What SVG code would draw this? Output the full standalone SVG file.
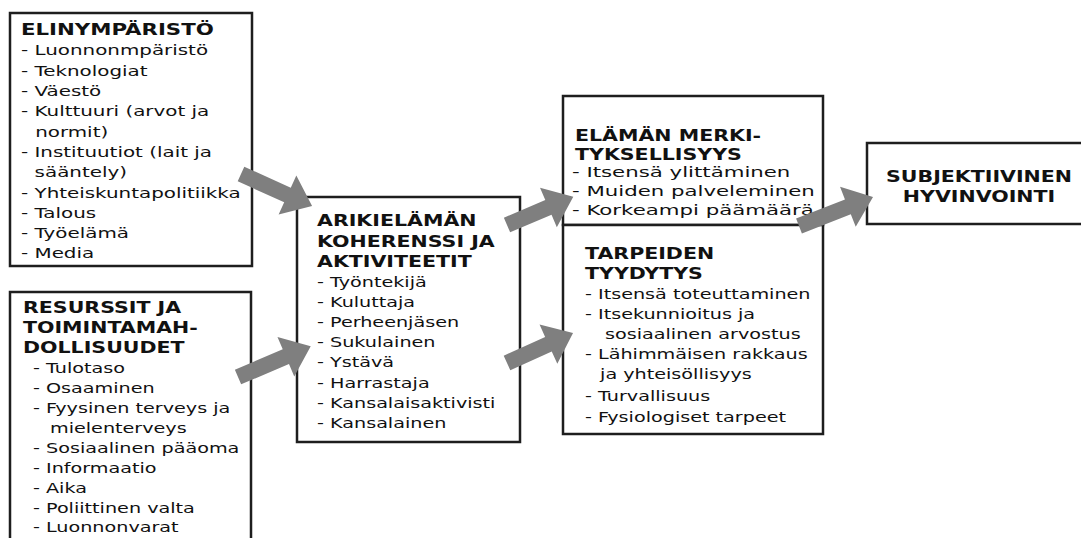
<svg xmlns="http://www.w3.org/2000/svg" width="1081" height="538" viewBox="0 0 1081 538">
<style>
.box{fill:#fff;stroke:#1e1e1e;stroke-width:2.5}
.t{font-family:"DejaVu Sans","Liberation Sans",sans-serif;font-size:14px;fill:#111}
.b{font-family:"DejaVu Sans","Liberation Sans",sans-serif;font-size:15px;font-weight:bold;fill:#111}
.arrow{fill:#7f7f7f;stroke:none}
</style>
<rect width="1081" height="538" fill="#fff"/>
<g id="elinymparisto">
<rect class="box" x="10" y="13" width="242" height="253"/>
<g transform="translate(21,0) scale(1.42,1)">
<text class="b" x="0" y="35">ELINYMPÄRISTÖ</text>
<text class="t" x="0" y="55.5">- Luonnonmpäristö</text>
<text class="t" x="0" y="75.8">- Teknologiat</text>
<text class="t" x="0" y="96.1">- Väestö</text>
<text class="t" x="0" y="116.4">- Kulttuuri (arvot ja</text>
<text class="t" x="10" y="136.7">normit)</text>
<text class="t" x="0" y="157">- Instituutiot (lait ja</text>
<text class="t" x="9.6" y="177.3">sääntely)</text>
<text class="t" x="0" y="197.8">- Yhteiskuntapolitiikka</text>
<text class="t" x="0" y="218">- Talous</text>
<text class="t" x="0" y="238.4">- Työelämä</text>
<text class="t" x="0" y="258.5">- Media</text>
</g>
</g>
<g id="resurssit">
<rect class="box" x="10" y="292" width="241" height="260"/>
<g transform="translate(23,0) scale(1.37,1)">
<text class="b" x="0" y="313">RESURSSIT JA</text>
<text class="b" x="0" y="333">TOIMINTAMAH-</text>
<text class="b" x="0" y="353">DOLLISUUDET</text>
<text class="t" x="7.3" y="373">- Tulotaso</text>
<text class="t" x="7.3" y="393">- Osaaminen</text>
<text class="t" x="7.3" y="413">- Fyysinen terveys ja</text>
<text class="t" x="19.7" y="433">mielenterveys</text>
<text class="t" x="7.3" y="453">- Sosiaalinen pääoma</text>
<text class="t" x="7.3" y="473">- Informaatio</text>
<text class="t" x="7.3" y="493">- Aika</text>
<text class="t" x="7.3" y="513">- Poliittinen valta</text>
<text class="t" x="7.3" y="532.5">- Luonnonvarat</text>
</g>
</g>
<g id="arkielama">
<rect class="box" x="297" y="197" width="223" height="245"/>
<g transform="translate(317,0) scale(1.37,1)">
<text class="b" x="0" y="226">ARIKIELÄMÄN</text>
<text class="b" x="0" y="247">KOHERENSSI JA</text>
<text class="b" x="0" y="267">AKTIVITEETIT</text>
<text class="t" x="0" y="287">- Työntekijä</text>
<text class="t" x="0" y="307">- Kuluttaja</text>
<text class="t" x="0" y="327">- Perheenjäsen</text>
<text class="t" x="0" y="347">- Sukulainen</text>
<text class="t" x="0" y="367.5">- Ystävä</text>
<text class="t" x="0" y="388">- Harrastaja</text>
<text class="t" x="0" y="408">- Kansalaisaktivisti</text>
<text class="t" x="0" y="428">- Kansalainen</text>
</g>
</g>
<g id="merkityksellisyys">
<rect class="box" x="563" y="96" width="260" height="129"/>
<g transform="translate(575,0) scale(1.37,1)">
<text class="b" x="0" y="141">ELÄMÄN MERKI-</text>
<text class="b" x="0" y="160">TYKSELLISYYS</text>
</g>
<g transform="translate(572,0) scale(1.52,1)">
<text class="t" x="0" y="177.5">- Itsensä ylittäminen</text>
<text class="t" x="0" y="196.5">- Muiden palveleminen</text>
<text class="t" x="0" y="215.5">- Korkeampi päämäärä</text>
</g>
</g>
<g id="tarpeet">
<rect class="box" x="563" y="225" width="260" height="209"/>
<g transform="translate(585,0) scale(1.37,1)">
<text class="b" x="0" y="259">TARPEIDEN</text>
<text class="b" x="0" y="279">TYYDYTYS</text>
<text class="t" x="0" y="299">- Itsensä toteuttaminen</text>
<text class="t" x="0" y="319">- Itsekunnioitus ja</text>
<text class="t" x="14.6" y="339">sosiaalinen arvostus</text>
<text class="t" x="0" y="359">- Lähimmäisen rakkaus</text>
<text class="t" x="11" y="379">ja yhteisöllisyys</text>
<text class="t" x="0" y="401">- Turvallisuus</text>
<text class="t" x="0" y="422">- Fysiologiset tarpeet</text>
</g>
</g>
<g id="hyvinvointi">
<rect class="box" x="867" y="143" width="225" height="81"/>
<g transform="translate(979,0) scale(1.37,1)">
<text class="b" x="0" y="182" text-anchor="middle">SUBJEKTIIVINEN</text>
<text class="b" x="0" y="202" text-anchor="middle">HYVINVOINTI</text>
</g>
</g>
<g id="connectors">
<path class="arrow" transform="translate(241,174) rotate(24.3)" d="M0,-8 L51,-8 L51,-21.5 L78,0 L51,21.5 L51,8 L0,8 Z"/>
<path class="arrow" transform="translate(238,377) rotate(-23)" d="M0,-8 L52,-8 L52,-21.5 L79,0 L52,21.5 L52,8 L0,8 Z"/>
<path class="arrow" transform="translate(507,225) rotate(-23)" d="M0,-8 L45,-8 L45,-21.5 L72,0 L45,21.5 L45,8 L0,8 Z"/>
<path class="arrow" transform="translate(507,363) rotate(-24.4)" d="M0,-8 L45.5,-8 L45.5,-21.5 L72.5,0 L45.5,21.5 L45.5,8 L0,8 Z"/>
<path class="arrow" transform="translate(799,226) rotate(-21.4)" d="M0,-8 L52.5,-8 L52.5,-21.5 L79.5,0 L52.5,21.5 L52.5,8 L0,8 Z"/>
</g>
</svg>
